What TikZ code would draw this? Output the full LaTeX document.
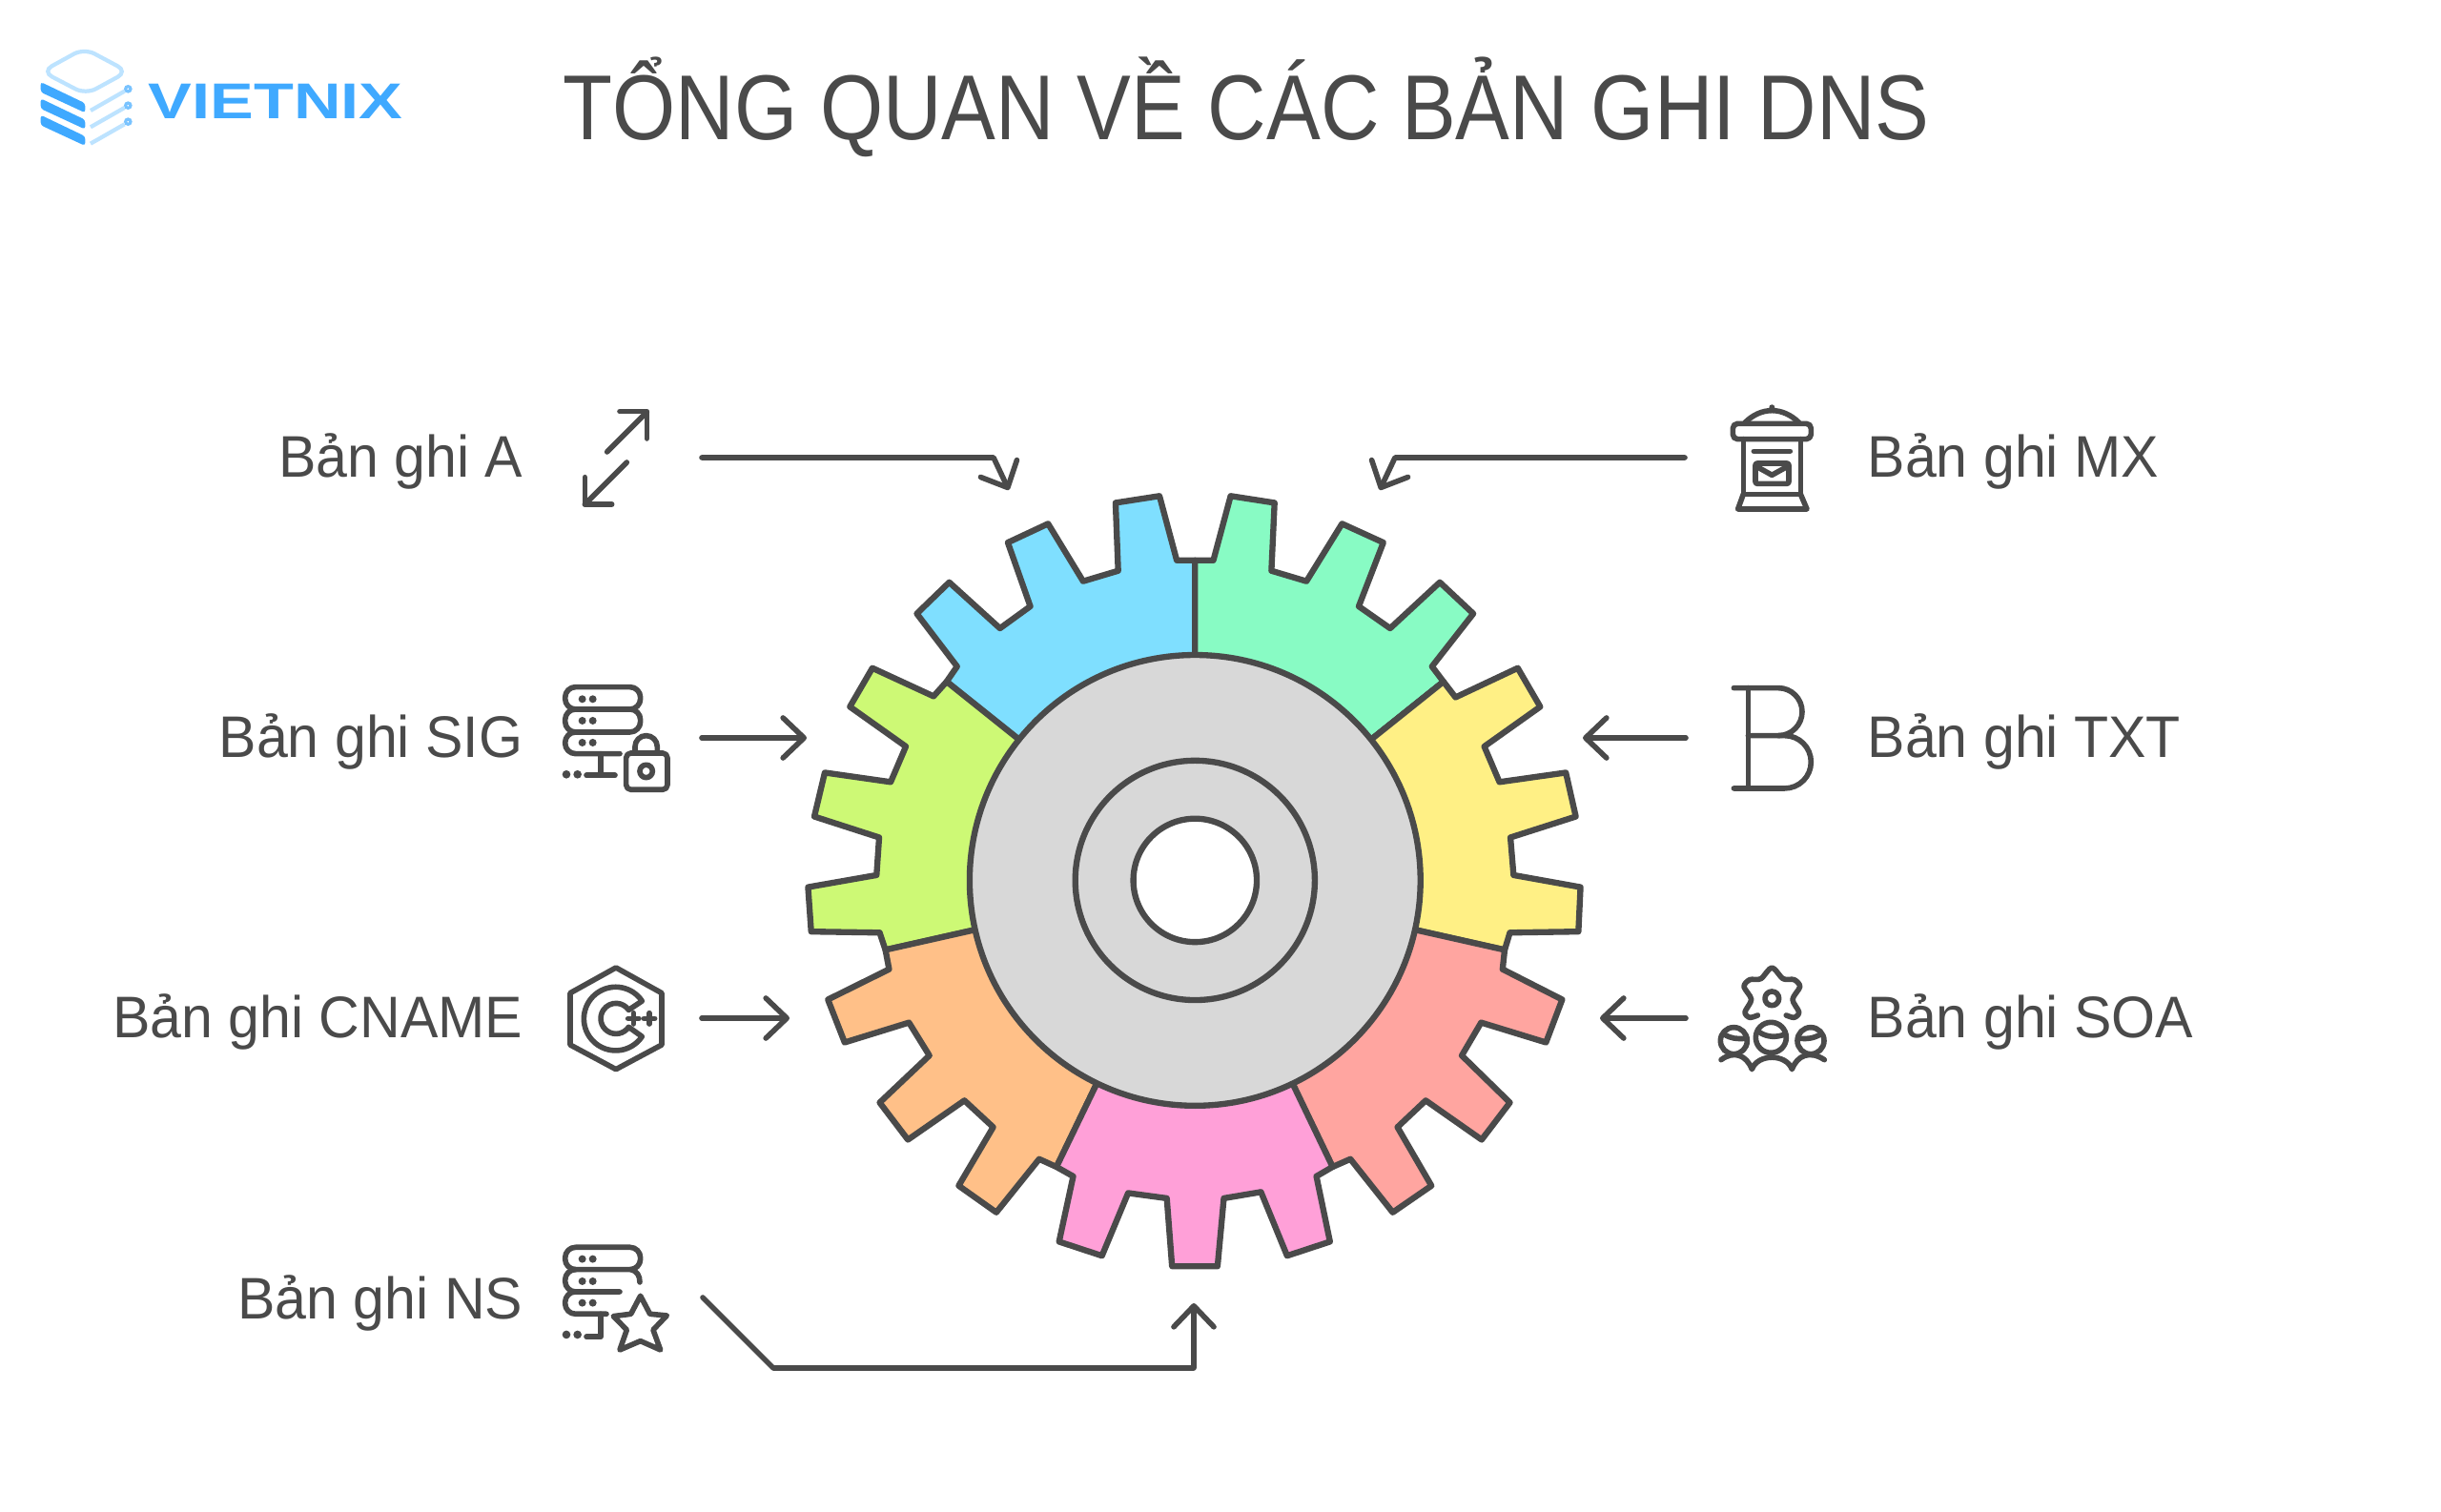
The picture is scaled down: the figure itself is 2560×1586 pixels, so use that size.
\documentclass[tikz,border=0pt]{standalone}
\usepackage{fontspec}
\setmainfont[FakeStretch=0.96]{Liberation Sans}
\newfontfamily\titlefont[FakeStretch=0.88]{Liberation Sans}
\newfontfamily\logofont[FakeStretch=1.3]{Liberation Sans}
\usetikzlibrary{arrows.meta}
\definecolor{ink}{HTML}{4A4A4A}
\definecolor{tblue}{HTML}{7FDFFF}
\definecolor{tmint}{HTML}{88FBC4}
\definecolor{tlime}{HTML}{CDF975}
\definecolor{tyellow}{HTML}{FFF085}
\definecolor{tsalmon}{HTML}{FFA5A0}
\definecolor{tpink}{HTML}{FFA0D8}
\definecolor{torange}{HTML}{FFC088}
\definecolor{tgrey}{HTML}{D8D8D8}
\definecolor{logoblue}{HTML}{3FA9FF}
\definecolor{logopale}{HTML}{BDE3FF}
\begin{document}
\begin{tikzpicture}[x=0.01cm,y=0.01cm,yscale=-1]
\tikzset{
  tooth/.style={draw=ink, line width=1.8pt, line join=round},
  tilabel/.style={text=ink, font=\fontsize{17.5}{20}\selectfont, anchor=base east, inner sep=0pt},
  tirlabel/.style={text=ink, font=\fontsize{17.5}{20}\selectfont, anchor=base west, inner sep=0pt},
  tiarrow/.style={draw=ink, line width=1.6pt, line cap=round, line join=round, -{Straight Barb[length=0.22cm,width=0.42cm,round]}},
  tiicon/.style={draw=ink, line width=1.6pt, line cap=round, line join=round},
  tidot/.style={fill=ink}
}
\useasboundingbox (0,0) rectangle (2560,1586);
\fill[white] (0,0) rectangle (2560,1586);

\node[text=ink, font=\titlefont\fontsize{27.5}{32}\selectfont, anchor=base west, inner sep=0pt] (T) at (590,147) {TỔNG QUAN VỀ CÁC BẢN GHI DNS};
\node[text=logoblue, font=\logofont\bfseries\fontsize{15}{18}\selectfont, anchor=base west, inner sep=0pt] (LOGO) at (155,125) {VIETNIX};

\begin{scope}[shift={(0,30)},scale=0.3333]
\draw[logopale, line width=1.2pt, rounded corners=0.12cm] (132,135) -- (265,62) -- (402,135) -- (270,207) -- cycle;
\fill[logoblue, rounded corners=0.03cm] (128,168) -- (268,235) -- (268,265) -- (128,200) -- cycle;
\fill[logoblue, rounded corners=0.03cm] (128,220) -- (268,287) -- (268,317) -- (128,252) -- cycle;
\fill[logoblue, rounded corners=0.03cm] (128,272) -- (268,339) -- (268,369) -- (128,304) -- cycle;
\draw[logopale, line width=1.2pt] (285,258) -- (392,197);
\draw[logopale, line width=1.2pt] (285,310) -- (392,249);
\draw[logopale, line width=1.2pt] (285,362) -- (392,301);
\draw[logoblue!70, line width=0.9pt] (403,190) circle [radius=8];
\draw[logoblue!70, line width=0.9pt] (403,242) circle [radius=8];
\draw[logoblue!70, line width=0.9pt] (403,293) circle [radius=8];
\end{scope}

\begin{scope}[shift={(820,500)},scale=0.5485]
\filldraw[tooth, fill=tblue] (790,160) -- (755,160) -- (722,37) -- (638,50) -- (643,180) -- (576,200) -- (509,90) -- (432,126) -- (475,248) -- (417,290) -- (320,202) -- (258,262) -- (335,363) -- (315,392) -- (790,772) -- cycle;
\filldraw[tooth, fill=tmint] (790,160) -- (825,160) -- (858,37) -- (942,50) -- (936,180) -- (1003,200) -- (1071,90) -- (1150,126) -- (1103,248) -- (1163,290) -- (1258,202) -- (1322,262) -- (1243,363) -- (1265,392) -- (790,772) -- cycle;
\filldraw[tooth, fill=tlime] (315,392) -- (290,420) -- (173,366) -- (130,440) -- (237,516) -- (208,584) -- (82,566) -- (62,650) -- (186,690) -- (181,762) -- (50,785) -- (56,870) -- (187,872) -- (198,905) -- (790,772) -- cycle;
\filldraw[tooth, fill=tyellow] (1265,392) -- (1288,422) -- (1407,366) -- (1450,440) -- (1343,516) -- (1372,584) -- (1499,566) -- (1518,650) -- (1393,690) -- (1399,762) -- (1527,785) -- (1523,870) -- (1392,872) -- (1382,905) -- (790,772) -- cycle;
\filldraw[tooth, fill=torange] (198,905) -- (205,942) -- (88,1000) -- (120,1082) -- (243,1044) -- (282,1107) -- (187,1197) -- (241,1268) -- (349,1193) -- (404,1244) -- (338,1356) -- (410,1407) -- (492,1305) -- (525,1320) -- (790,772) -- cycle;
\filldraw[tooth, fill=tsalmon] (1382,905) -- (1378,942) -- (1492,1000) -- (1461,1082) -- (1337,1044) -- (1300,1107) -- (1392,1197) -- (1338,1268) -- (1231,1193) -- (1177,1244) -- (1242,1356) -- (1168,1407) -- (1087,1305) -- (1053,1320) -- (790,772) -- cycle;
\filldraw[tooth, fill=tpink] (525,1320) -- (557,1338) -- (530,1463) -- (612,1490) -- (662,1370) -- (736,1380) -- (746,1510) -- (833,1510) -- (845,1380) -- (916,1368) -- (966,1490) -- (1048,1463) -- (1022,1338) -- (1053,1320) -- (790,772) -- cycle;
\filldraw[tooth, fill=tgrey] (790,772) circle [radius=431];
\draw[tooth] (790,772) circle [radius=229];
\filldraw[tooth, fill=white] (790,772) circle [radius=118];
\end{scope}

\node[tilabel] (L1) at (549,501) {Bản ghi A};
\node[tilabel] (L2) at (549,795) {Bản ghi SIG};
\node[tilabel] (L3) at (549,1089) {Bản ghi CNAME};
\node[tilabel] (L4) at (549,1383) {Bản ghi NS};
\node[tirlabel] (R1) at (1958,501) {Bản ghi MX};
\node[tirlabel] (R2) at (1958,795) {Bản ghi TXT};
\node[tirlabel] (R3) at (1958,1089) {Bản ghi SOA};

\coordinate (S1) at (736,480);
\coordinate (B1) at (1042,480);
\coordinate (E1) at (1058,514);
\coordinate (S2) at (736,774);
\coordinate (E2) at (846,774);
\coordinate (S3) at (736,1068);
\coordinate (E3) at (828,1068);
\coordinate (S4) at (737,1361);
\coordinate (B4) at (811,1435);
\coordinate (C4) at (1252,1435);
\coordinate (E4) at (1252,1367);
\coordinate (S5) at (1767,480);
\coordinate (B5) at (1463,480);
\coordinate (E5) at (1447,514);
\coordinate (S6) at (1768,774);
\coordinate (E6) at (1660,774);
\coordinate (S7) at (1768,1068);
\coordinate (E7) at (1678,1068);
\draw[tiarrow] (S1) -- (B1) -- (E1);
\draw[tiarrow] (S2) -- (E2);
\draw[tiarrow] (S3) -- (E3);
\draw[tiarrow] (S4) -- (B4) -- (C4) -- (E4);
\draw[tiarrow] (S5) -- (B5) -- (E5);
\draw[tiarrow] (S6) -- (E6);
\draw[tiarrow] (S7) -- (E7);

\begin{scope}[shift={(570,400)},scale=0.3333]
\draw[tiicon] (200,222) -- (325,97);
\draw[tiicon] (240,95) -- (325,95) -- (325,180);
\draw[tiicon] (262,255) -- (130,387);
\draw[tiicon] (130,302) -- (130,387) -- (215,387);
\draw[tiicon, rounded corners=0.11cm] (68,962) rectangle (305,1032);
\draw[tiicon, rounded corners=0.11cm] (68,1032) rectangle (305,1104);
\draw[tiicon, rounded corners=0.11cm] (100,1104) -- (68,1104) -- (68,1172) -- (240,1172);
\draw[tiicon] (180,1172) -- (180,1240);
\draw[tiicon] (135,1240) -- (225,1240);
\fill[tidot] (122,1000) circle [radius=12];
\fill[tidot] (155,1000) circle [radius=12];
\fill[tidot] (122,1068) circle [radius=12];
\fill[tidot] (155,1068) circle [radius=12];
\fill[tidot] (122,1137) circle [radius=12];
\fill[tidot] (155,1137) circle [radius=12];
\fill[tidot] (72,1237) circle [radius=13];
\fill[tidot] (107,1237) circle [radius=13];
\draw[tiicon, rounded corners=0.05cm] (260,1170) rectangle (390,1285);
\draw[tiicon] (288,1170) -- (288,1150) arc [start angle=180, end angle=360, radius=35] -- (358,1170);
\draw[tiicon] (323,1227) circle [radius=20];
\end{scope}

\begin{scope}[shift={(570,990)},scale=0.3333]
\draw[tiicon] (84,155) -- (228,75) -- (372,155) -- (372,318) -- (228,395) -- (84,318) -- cycle;
\draw[tiicon] (310,180) arc [start angle=-34, end angle=-326, radius=100] -- (268,262) arc [start angle=34, end angle=326, radius=48] -- cycle;
\draw[tiicon] (266,235) -- (300,235);
\draw[tiicon] (283,218) -- (283,252);
\draw[tiicon] (316,235) -- (350,235);
\draw[tiicon] (333,218) -- (333,252);
\draw[tiicon, rounded corners=0.11cm] (270,1025) -- (68,1025) -- (68,955) -- (305,955) -- (305,1025) -- (270,1025);
\draw[tiicon] (275,1025) .. controls (295,1030) and (303,1045) .. (303,1065);
\draw[tiicon, rounded corners=0.11cm] (100,1025) -- (68,1025) -- (68,1095) -- (240,1095);
\draw[tiicon, rounded corners=0.11cm] (100,1095) -- (68,1095) -- (68,1165) -- (198,1165);
\draw[tiicon] (180,1165) -- (180,1237) -- (135,1237);
\fill[tidot] (122,992) circle [radius=12];
\fill[tidot] (155,992) circle [radius=12];
\fill[tidot] (122,1062) circle [radius=12];
\fill[tidot] (155,1062) circle [radius=12];
\fill[tidot] (122,1130) circle [radius=12];
\fill[tidot] (155,1130) circle [radius=12];
\fill[tidot] (72,1230) circle [radius=13];
\fill[tidot] (107,1230) circle [radius=13];
\draw[tiicon] (305,1108) -- (335,1165) -- (388,1170) -- (345,1215) -- (368,1278) -- (305,1250) -- (240,1278) -- (262,1215) -- (220,1172) -- (275,1165) -- cycle;
\end{scope}

\begin{scope}[shift={(1780,410)},scale=0.3333]
\draw[tiicon] (150,100) .. controls (175,75) and (205,62) .. (235,62) .. controls (265,62) and (295,75) .. (320,100);
\fill[tidot] (235,52) circle [radius=9];
\draw[tiicon, rounded corners=0.05cm] (112,103) rectangle (358,152);
\draw[tiicon] (145,152) -- (145,325) -- (325,325) -- (325,152);
\draw[tiicon] (145,325) -- (128,372) -- (345,372) -- (325,325);
\draw[tiicon] (178,190) -- (292,190);
\draw[tiicon, rounded corners=0.02cm] (183,228) rectangle (288,292);
\draw[tiicon] (190,240) -- (235,265) -- (280,240);
\draw[tiicon] (115,935) -- (255,935) arc [start angle=-90, end angle=90, radius=75] -- (160,1085);
\draw[tiicon] (255,1085) -- (275,1085) arc [start angle=-90, end angle=90, radius=83] -- (115,1251);
\draw[tiicon] (160,935) -- (160,1251);
\end{scope}

\begin{scope}[shift={(1780,990)},scale=0.3333]
\draw[tiicon] (235,172) circle [radius=22];
\draw[tiicon] plot[smooth] coordinates {(190,225) (165,232) (150,215) (170,175) (147,135) (165,113) (200,110) (235,75) (270,110) (305,113) (323,135) (300,175) (320,215) (305,232) (280,225)};
\draw[tiicon] (232,295) circle [radius=48];
\draw[tiicon] (115,305) circle [radius=42];
\draw[tiicon] (357,305) circle [radius=42];
\draw[tiicon] (195,278) .. controls (220,295) and (250,295) .. (275,285);
\draw[tiicon] (85,285) .. controls (105,298) and (125,300) .. (150,298);
\draw[tiicon] (325,298) .. controls (345,300) and (365,298) .. (388,285);
\draw[tiicon] (75,365) .. controls (115,335) and (155,350) .. (172,395) .. controls (190,345) and (280,345) .. (298,395) .. controls (315,350) and (355,335) .. (400,365);
\end{scope}
\end{tikzpicture}
\end{document}
